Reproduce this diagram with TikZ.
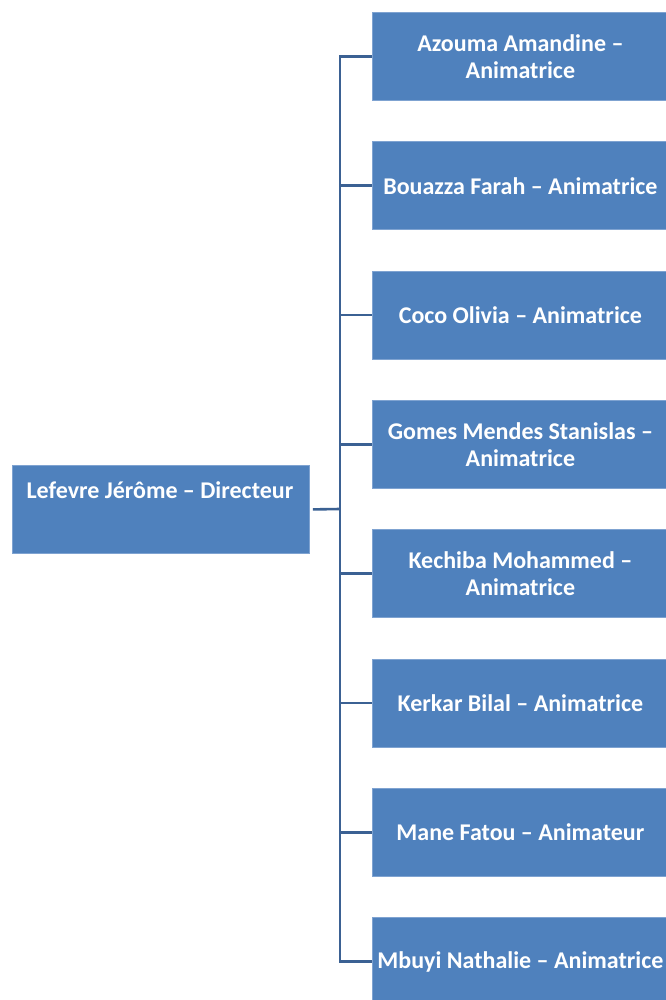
\documentclass[tikz,border=0pt]{standalone}
\usepackage{fontspec}
\setmainfont{Carlito}
\definecolor{boxblue}{HTML}{4F81BD}
\definecolor{boxedge}{HTML}{7FA3D1}
\definecolor{linkblue}{HTML}{3B6193}
\begin{document}
\begin{tikzpicture}[x=1pt,y=-1pt,
  person/.style={rectangle, fill=boxblue, draw=boxedge, line width=0.8pt, anchor=north west, inner sep=0pt},
  lbl/.style={text=white, font=\bfseries\fontsize{24}{27}\selectfont, align=center},
  link/.style={draw=linkblue, line width=2.6pt}]
\useasboundingbox (0,0) rectangle (665,1000);
% left box
\node[person, minimum width=297pt, minimum height=88pt] (dir) at (12,465) {};
\node[lbl] (dirt) at (160,490) {Lefevre Jérôme – Directeur};
% right boxes
\foreach \i/\name/\txt in {
  0/a/{Azouma Amandine –\\Animatrice},
  1/b/{Bouazza Farah – Animatrice},
  2/c/{Coco Olivia – Animatrice},
  3/d/{Gomes Mendes Stanislas –\\Animatrice},
  4/e/{Kechiba Mohammed –\\Animatrice},
  5/f/{Kerkar Bilal – Animatrice},
  6/g/{Mane Fatou – Animateur},
  7/h/{Mbuyi Nathalie – Animatrice}} {
  \node[person, minimum width=296pt, minimum height=88pt] (\name) at (372,{12+129.3*\i}) {};
  \node[lbl] (\name t) at (\name.center) {\txt};
}
\coordinate (trunk) at (340,509);
\draw[link] (dir.east) ++(3,0) -- (trunk);
\draw[link, line cap=rect] (340,0 |- a.west) -- (340,0 |- h.west);
\foreach \n in {a,b,c,d,e,f,g,h} {
  \draw[link] (340,0 |- \n.west) -- (\n.west);
}
\end{tikzpicture}
\end{document}
